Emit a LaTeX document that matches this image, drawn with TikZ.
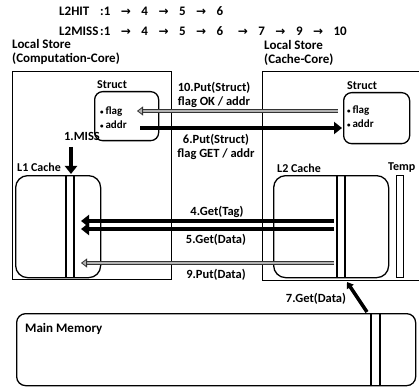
\documentclass[tikz,border=0pt]{standalone}
\usepackage{fontspec}
\setmainfont{Carlito}
\newfontfamily\arrfont{DejaVu Sans}
\usetikzlibrary{arrows.meta}
\newcommand\rarr{\hspace{10.5pt}{\arrfont\bfseries\fontsize{12}{14}\selectfont →}\hspace{10.5pt}}
\begin{document}
\begin{tikzpicture}[x=1pt,y=-1pt,
  font=\fontsize{12.5}{14.5}\selectfont\bfseries,
  box/.style={draw, line width=1.3pt, inner sep=0pt, anchor=north west},
  rbox/.style={box, rounded corners=#1},
  txt/.style={inner sep=0pt},
  lbl/.style={inner sep=0pt, align=center},
  blk/.style={line width=4.5pt, -{Triangle[length=8pt,width=12pt]}},
  gry/.style={draw=black!80, line width=0.8pt, double=gray!60, double distance=2.6pt,
              -{Triangle[length=6pt,width=9pt,fill=gray!60]}},
  vline/.style={line width=1.3pt},
]
\useasboundingbox (0,0) rectangle (419,387);

% header
\node[txt, anchor=west, font=\fontsize{13}{16}\selectfont\bfseries] (hit) at (59,11)
  {\makebox[41pt][l]{L2HIT}:1\rarr 4\rarr 5\rarr 6};
\node[txt, anchor=west, font=\fontsize{13}{16}\selectfont\bfseries] (miss) at (59,31)
  {\makebox[41pt][l]{L2MISS}:1\rarr 4\rarr 5\rarr 6\hspace{4pt}\rarr 7\rarr 9\rarr 10};

% local stores
\node[txt, anchor=north west, align=left, font=\fontsize{13}{14}\selectfont\bfseries] (lsLt) at (12,39)
  {Local Store\\(Computation-Core)};
\node[txt, anchor=north west, align=left, font=\fontsize{13}{14}\selectfont\bfseries] (lsRt) at (264,40)
  {Local Store\\(Cache-Core)};
\node[box, minimum width=159pt, minimum height=208pt] (lsL) at (12,71) {};
\node[box, minimum width=170pt, minimum height=209pt] (lsR) at (262,71) {};

% struct boxes
\node[rbox=8pt, minimum width=64pt, minimum height=49pt] (stL) at (94,91) {};
\node[txt, anchor=south west, font=\fontsize{12}{14}\selectfont\bfseries] (stLt) at (97,89) {Struct};
\node[txt, anchor=west, align=left, font=\fontsize{11}{14}\selectfont\bfseries] (stLf) at (100,118)
  {{\scriptsize\textbullet}\,flag\\{\scriptsize\textbullet}\,addr};
\node[rbox=8pt, minimum width=66pt, minimum height=51pt] (stR) at (343,92) {};
\node[txt, anchor=south west, font=\fontsize{12}{14}\selectfont\bfseries] (stRt) at (347,90) {Struct};
\node[txt, anchor=west, align=left, font=\fontsize{11}{14}\selectfont\bfseries] (stRf) at (347,117)
  {{\scriptsize\textbullet}\,flag\\{\scriptsize\textbullet}\,addr};

% caches
\node[rbox=12pt, minimum width=85pt, minimum height=102pt] (l1) at (15,175) {};
\node[txt, anchor=west, font=\fontsize{12}{14}\selectfont\bfseries] (l1t) at (17,167) {L1 Cache};
\draw[vline] (66,175) -- (66,277);
\draw[vline] (74,175) -- (74,277);

\node[rbox=12pt, minimum width=115pt, minimum height=102pt] (l2) at (273,175) {};
\node[txt, anchor=west, font=\fontsize{12}{14}\selectfont\bfseries] (l2t) at (277,168) {L2 Cache};
\draw[vline] (337,175) -- (337,277);
\draw[vline] (345,175) -- (345,277);
\node[box, minimum width=7pt, minimum height=102pt] (tmp) at (396,175) {};
\node[txt, anchor=west, font=\fontsize{12}{14}\selectfont\bfseries] (tmpt) at (388,168) {Temp};

% main memory
\node[rbox=9pt, minimum width=399pt, minimum height=72pt] (mm) at (16,313) {};
\node[txt, anchor=west, font=\fontsize{13}{14}\selectfont\bfseries] (mmt) at (25,329) {Main Memory};
\draw[vline] (371,313) -- (371,385);
\draw[vline] (380,313) -- (380,385);

% arrow ends
\coordinate (a10s) at (338,111); \coordinate (a10e) at (137,111);
\coordinate (a6s) at (140,128);  \coordinate (a6e) at (342,128);
\coordinate (a1s) at (71,147);   \coordinate (a1e) at (71,174);
\coordinate (a4s) at (334,221);  \coordinate (a4e) at (81,221);
\coordinate (a5s) at (334,229);  \coordinate (a5e) at (81,229);
\coordinate (a9s) at (334,263);  \coordinate (a9e) at (81,263);
\coordinate (a7s) at (367,312);  \coordinate (a7e) at (347,282);

\draw[gry] (a10s) -- (a10e);
\draw[blk] (a6s) -- (a6e);
\draw[blk] (a1s) -- (a1e);
\draw[blk] (a4s) -- (a4e);
\draw[blk] (a5s) -- (a5e);
\draw[gry] (a9s) -- (a9e);
\draw[line width=3.5pt, -{Triangle[length=6pt,width=8pt]}] (a7s) -- (a7e);

% labels
\node[lbl] (l10) at (214,95) {10.Put(Struct)\\flag OK / addr};
\node[lbl] (l6) at (216,147) {6.Put(Struct)\\flag GET / addr};
\node[lbl] (l1m) at (82,136) {1.MISS};
\node[lbl] (l4) at (217,212) {4.Get(Tag)};
\node[lbl] (l5) at (216,240) {5.Get(Data)};
\node[lbl] (l9) at (216,275) {9.Put(Data)};
\node[lbl] (l7) at (316,299) {7.Get(Data)};
\end{tikzpicture}
\end{document}
